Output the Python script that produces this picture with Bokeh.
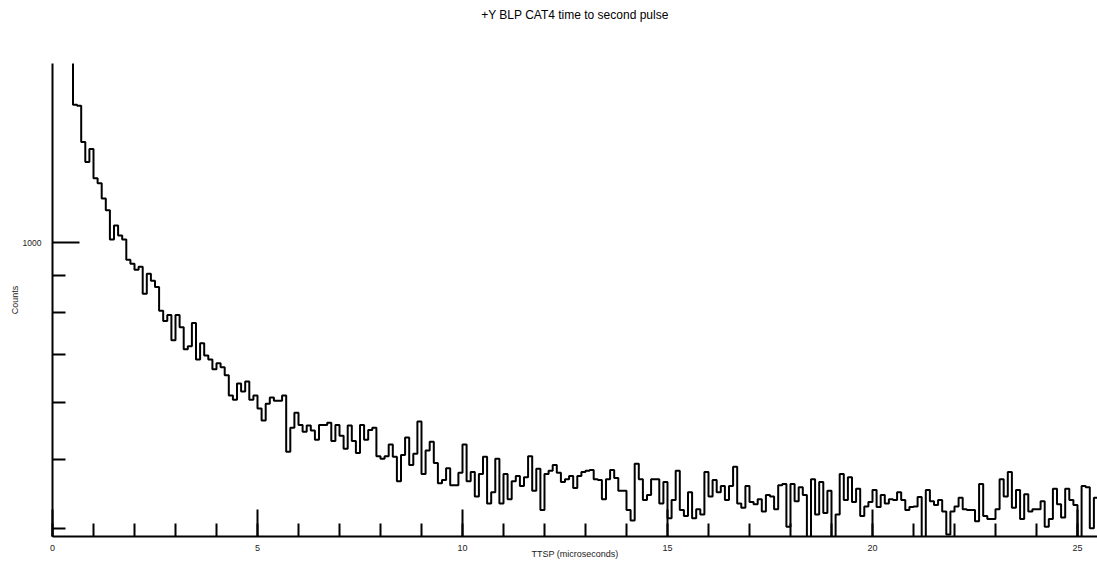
from bokeh.plotting import figure
from bokeh.models import Range1d, FixedTicker, SingleIntervalTicker, PrintfTickFormatter, Title
from bokeh.embed import file_html
from bokeh.resources import INLINE

title_text = "+Y BLP CAT4 time to second pulse"
x_label = "TTSP (microseconds)"
y_label = "Counts"

bin_start = 0.5
bin_width = 0.1
offscale_top = 3000  # bins left of 0.5 are above the plotted range

counts = [
    1555, 1550, 1380, 1294, 1349, 1229, 1209, 1152, 1109, 1010,
    1056, 1023, 1010, 947, 935, 917, 926, 849, 905, 885,
    868, 804, 778, 793, 732, 793, 763, 711, 718, 773,
    688, 725, 697, 688, 667, 680, 671, 654, 613, 605,
    637, 621, 641, 605, 613, 588, 566, 597, 609, 603,
    603, 613, 512, 553, 580, 558, 546, 557, 548, 532,
    558, 558, 562, 530, 558, 539, 517, 557, 530, 510,
    558, 532, 549, 553, 505, 501, 505, 524, 504, 466,
    507, 536, 491, 509, 564, 477, 514, 529, 494, 463,
    468, 486, 460, 460, 479, 524, 466, 480, 444, 477,
    504, 434, 450, 501, 434, 477, 440, 466, 474, 459,
    472, 505, 452, 485, 425, 477, 482, 491, 479, 465,
    469, 474, 456, 474, 480, 482, 483, 469, 468, 440,
    469, 483, 471, 452, 452, 425, 411, 493, 469, 439,
    446, 469, 469, 434, 465, 414, 439, 482, 425, 417,
    450, 414, 426, 419, 480, 444, 468, 450, 459, 439,
    459, 488, 434, 428, 459, 436, 433, 440, 423, 446,
    444, 426, 460, 462, 403, 462, 437, 457, 446, 0,
    469, 419, 465, 421, 452, 0, 419, 477, 439, 472,
    436, 455, 417, 430, 436, 453, 429, 446, 434, 440,
    439, 450, 439, 425, 429, 430, 443, 0, 453, 437,
    432, 439, 423, 393, 423, 430, 442, 426, 425, 425,
    410, 462, 417, 413, 413, 426, 469, 444, 480, 428,
    453, 413, 447, 423, 426, 426, 437, 403, 413, 455,
    433, 415, 455, 439, 432, 0, 459, 457, 401, 442,
]

x_ticks_major = 5
y_major = [1000]
y_minor = [400, 500, 600, 700, 800, 900]

# build histogram outline (step path)
xs = [bin_start]
ys = [offscale_top]
for i, c in enumerate(counts):
    lo = bin_start + i * bin_width
    hi = lo + bin_width
    v = c if c > 0 else 1
    xs += [lo, hi]
    ys += [v, v]

FONT = "Liberation Sans"

p = figure(width=1097, height=561, output_backend="svg", toolbar_location=None,
           y_axis_type="log", x_range=Range1d(0, 25.488), y_range=Range1d(390.5, 1774),
           min_border_left=52, min_border_right=0, min_border_top=40, min_border_bottom=20,
           title=None)

spacer = Title(text=" ", text_font_size="22px", text_font=FONT, align="center")
p.add_layout(spacer, "above")
main_title = Title(text=title_text, text_font_size="12px", text_font=FONT,
                   text_font_style="normal", align="center", text_color="black")
p.add_layout(main_title, "above")

p.line(xs, ys, line_color="black", line_width=2)

p.outline_line_color = None
p.xgrid.visible = False
p.ygrid.visible = False
p.background_fill_color = "white"
p.border_fill_color = "white"

xa = p.xaxis[0]
xa.ticker = SingleIntervalTicker(interval=x_ticks_major, num_minor_ticks=5)
xa.axis_label = x_label
for a in (xa, p.yaxis[0]):
    a.axis_line_width = 2
    a.axis_line_color = "black"
    a.major_tick_line_width = 2
    a.minor_tick_line_width = 2
    a.major_tick_line_color = "black"
    a.minor_tick_line_color = "black"
    a.major_tick_in = 27
    a.major_tick_out = 0
    a.minor_tick_in = 13
    a.minor_tick_out = 0
    a.major_label_text_font = FONT
    a.axis_label_text_font = FONT
    a.axis_label_text_font_style = "normal"
    a.axis_label_text_font_size = "9px"
    a.major_label_text_color = "#222222"
    a.axis_label_text_color = "#222222"
xa.major_label_text_font_size = "9px"
xa.major_label_standoff = 8
xa.axis_label_standoff = -5

ya = p.yaxis[0]
ya.ticker = FixedTicker(ticks=y_major, minor_ticks=y_minor)
ya.formatter = PrintfTickFormatter(format="%d")
ya.axis_label = y_label
ya.major_label_text_font_size = "8.5px"
ya.major_label_standoff = 11
ya.axis_label_standoff = 0

open("out.html", "w").write(file_html(p, INLINE))
